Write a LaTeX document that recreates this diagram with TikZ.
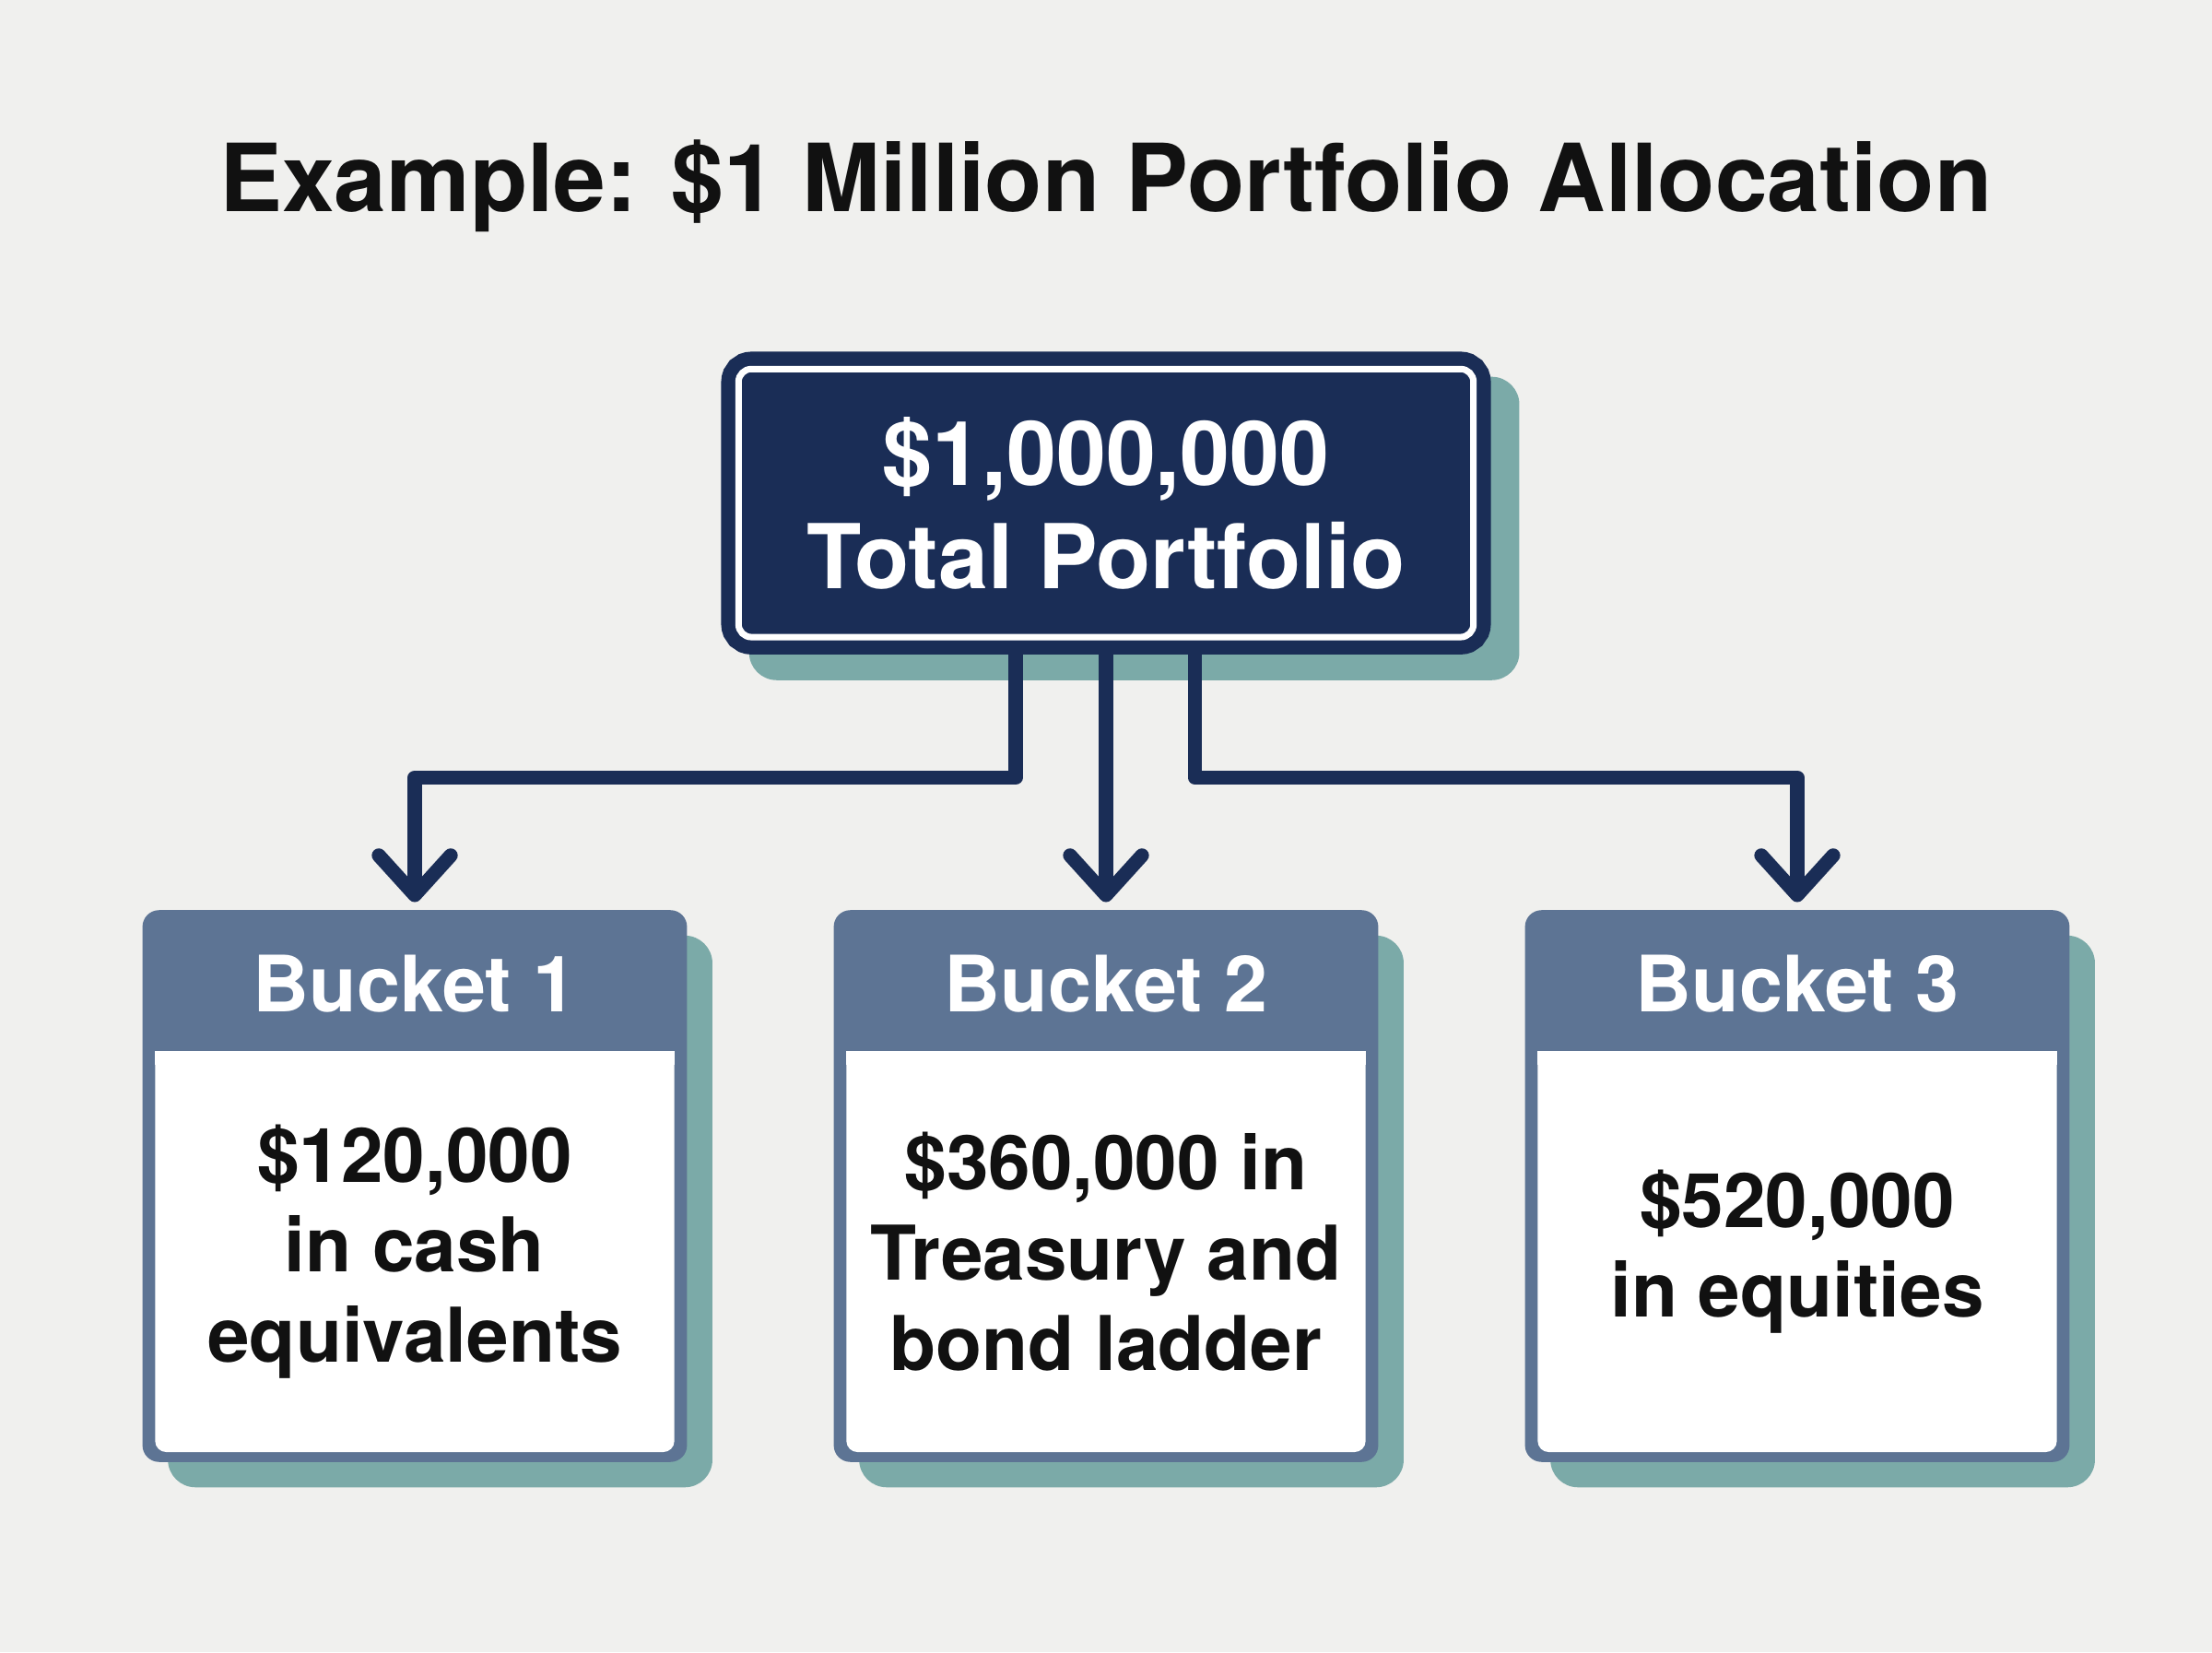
\documentclass[tikz,border=0pt]{standalone}
\usepackage{fontspec}
\setmainfont{TeX Gyre Heros}
\usetikzlibrary{arrows.meta,calc}
\definecolor{navy}{HTML}{1A2D56}
\definecolor{slate}{HTML}{5D7494}
\definecolor{sea}{HTML}{7BAAA8}
\definecolor{paper}{HTML}{F0F0EE}
\definecolor{ink}{HTML}{111111}
\tikzset{
  backdrop/.style={fill=sea, rounded corners=3mm},
  link/.style={draw=navy, line width=1.53mm, line join=round, shorten >=0.8mm,
    -{Straight Barb[length=4.3mm, width=7.8mm, round]}}
}
\begin{document}
\begin{tikzpicture}[x=0.15306mm, y=-0.15306mm,
  topbox/.style={fill=navy, draw=navy, line width=1.53mm, double=white, double distance=0.7mm,
    rounded corners=1.4mm, minimum width=79.74mm, minimum height=29.08mm, inner sep=0pt,
    align=center, text=white, font=\fontsize{27.6}{32}\selectfont\bfseries},
  bucket/.style={fill=slate, rounded corners=1.8mm, minimum width=59.08mm, minimum height=59.85mm, inner sep=0pt},
  head/.style={text=white, font=\fontsize{24}{28}\selectfont\bfseries},
  body/.style={fill=white, rounded corners=1.2mm, minimum width=56.33mm, minimum height=43.47mm, inner sep=0pt,
    align=center, text=ink, font=\fontsize{23.3}{27.8}\selectfont\bfseries}]
\useasboundingbox (0,0) rectangle (1568,1171);
\fill[paper] (0,0) rectangle (1568,1171);

\node[text=ink, font=\fontsize{29}{34}\selectfont\bfseries] (title) at (784,132) {Example: \$1 Million Portfolio Allocation};

% total
\fill[backdrop] (531,267) rectangle (1077,482);
\node[topbox] (total) at (784,356.5) {\$1,000,000\\Total Portfolio};

% buckets
\foreach \k/\x/\txt in {1/294/{\$120,000\\in cash\\equivalents},
                        2/784/{\$360,000 in\\Treasury and\\bond ladder},
                        3/1274/{\$520,000\\in equities}}{
  \fill[backdrop] (\x-175,663) rectangle (\x+211,1054);
  \node[bucket] (b\k) at (\x,840.5) {};
  \node[body] (body\k) at (\x,887) {\txt};
  \fill[white] (body\k.north west) rectangle ($(body\k.north east)+(0,10)$);
  \node[head] (head\k) at (\x,697) {Bucket \k};
}

% connectors
\coordinate (bus) at (784,551);
\draw[link] ($(total.south)+(-64,5)$) |- (bus -| b1.north) -- (b1.north);
\draw[link] ($(total.south)+(0,5)$) -- (b2.north);
\draw[link] ($(total.south)+(63,5)$) |- (bus -| b3.north) -- (b3.north);

\end{tikzpicture}
\end{document}
